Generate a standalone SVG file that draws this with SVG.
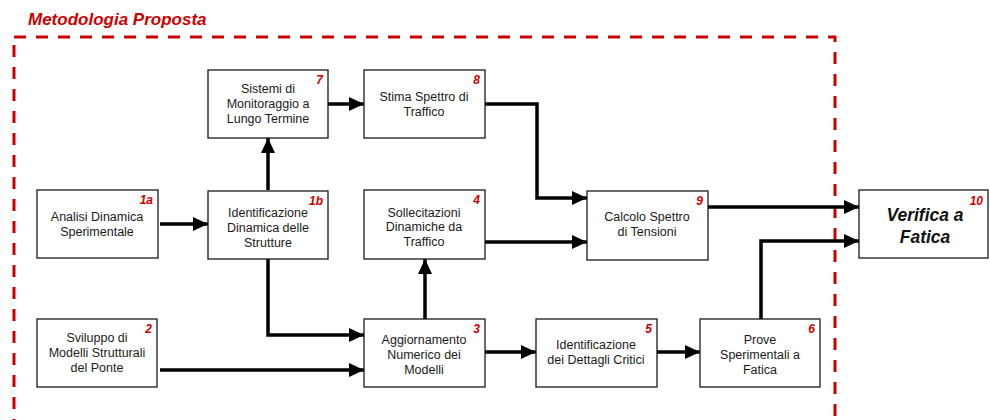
<svg xmlns="http://www.w3.org/2000/svg" width="990" height="420" viewBox="0 0 990 420">
  <style>
    .box { fill: #ffffff; stroke: #1a1a1a; stroke-width: 1.3; }
    .lbl { font-family: "Liberation Sans", Arial, sans-serif; font-size: 12.5px; fill: #1a1a1a; text-anchor: middle; }
    .num { font-family: "Liberation Sans", Arial, sans-serif; font-size: 12px; font-weight: bold; font-style: italic; fill: #cc0000; text-anchor: end; }
    .big { font-family: "Liberation Sans", Arial, sans-serif; font-size: 17.5px; font-weight: bold; font-style: italic; fill: #111111; text-anchor: middle; }
    .title { font-family: "Liberation Sans", Arial, sans-serif; font-size: 17px; font-weight: bold; font-style: italic; fill: #cc0000; }
    .frame { fill: none; stroke: #cc0000; stroke-width: 3; stroke-dasharray: 12 10; }
    .edge { fill: none; stroke: #000000; stroke-width: 3.5; marker-end: url(#head); }
  </style>
  <defs>
    <marker id="head" markerUnits="userSpaceOnUse" markerWidth="16" markerHeight="16" refX="15" refY="8" orient="auto">
      <path d="M0,1 L15,8 L0,15 Z" fill="#000000"/>
    </marker>
  </defs>

  <rect width="990" height="420" fill="#ffffff"/>

  <!-- Proposed methodology frame -->
  <text class="title" x="28" y="25">Metodologia Proposta</text>
  <rect class="frame" x="14" y="37" width="821" height="410"/>

  <!-- Connectors -->
  <g id="connectors">
    <path class="edge" d="M160,224 H208"/>
    <path class="edge" d="M268,190 V138"/>
    <path class="edge" d="M328,104 H364"/>
    <path class="edge" d="M485,104 H537 V198 H587"/>
    <path class="edge" d="M485,242 H587"/>
    <path class="edge" d="M708,207 H859"/>
    <path class="edge" d="M761,319 V241 H859"/>
    <path class="edge" d="M268,259 V335 H364"/>
    <path class="edge" d="M160,370 H364"/>
    <path class="edge" d="M425,319 V259"/>
    <path class="edge" d="M485,352 H536"/>
    <path class="edge" d="M657,352 H700"/>
  </g>

  <!-- Nodes -->
  <g id="node-1a">
    <rect class="box" x="37" y="190" width="121" height="68"/>
    <text class="num" x="153" y="204">1a</text>
    <text class="lbl" x="97" y="221">Analisi Dinamica</text>
    <text class="lbl" x="97" y="236">Sperimentale</text>
  </g>
  <g id="node-1b">
    <rect class="box" x="208" y="191" width="120" height="68"/>
    <text class="num" x="323" y="205">1b</text>
    <text class="lbl" x="268" y="217">Identificazione</text>
    <text class="lbl" x="268" y="232">Dinamica delle</text>
    <text class="lbl" x="268" y="247">Strutture</text>
  </g>
  <g id="node-7">
    <rect class="box" x="208" y="70" width="120" height="68"/>
    <text class="num" x="323" y="84">7</text>
    <text class="lbl" x="268" y="93">Sistemi di</text>
    <text class="lbl" x="268" y="108">Monitoraggio a</text>
    <text class="lbl" x="268" y="123">Lungo Termine</text>
  </g>
  <g id="node-8">
    <rect class="box" x="364" y="70" width="121" height="68"/>
    <text class="num" x="480" y="84">8</text>
    <text class="lbl" x="424" y="101">Stima Spettro di</text>
    <text class="lbl" x="424" y="116">Traffico</text>
  </g>
  <g id="node-4">
    <rect class="box" x="364" y="190" width="121" height="69"/>
    <text class="num" x="480" y="204">4</text>
    <text class="lbl" x="424" y="217">Sollecitazioni</text>
    <text class="lbl" x="424" y="231">Dinamiche da</text>
    <text class="lbl" x="424" y="246">Traffico</text>
  </g>
  <g id="node-9">
    <rect class="box" x="587" y="191" width="121" height="69"/>
    <text class="num" x="703" y="205">9</text>
    <text class="lbl" x="647" y="221">Calcolo Spettro</text>
    <text class="lbl" x="647" y="236">di Tensioni</text>
  </g>
  <g id="node-10">
    <rect class="box" x="859" y="190" width="129" height="68"/>
    <text class="num" x="983" y="205">10</text>
    <text class="big" x="925" y="221">Verifica a</text>
    <text class="big" x="925" y="243">Fatica</text>
  </g>
  <g id="node-2">
    <rect class="box" x="37" y="319" width="120" height="68"/>
    <text class="num" x="152" y="333">2</text>
    <text class="lbl" x="97" y="342">Sviluppo di</text>
    <text class="lbl" x="97" y="357">Modelli  Strutturali</text>
    <text class="lbl" x="97" y="372">del Ponte</text>
  </g>
  <g id="node-3">
    <rect class="box" x="364" y="319" width="121" height="68"/>
    <text class="num" x="480" y="333">3</text>
    <text class="lbl" x="424" y="344">Aggiornamento</text>
    <text class="lbl" x="424" y="359">Numerico dei</text>
    <text class="lbl" x="424" y="374">Modelli</text>
  </g>
  <g id="node-5">
    <rect class="box" x="536" y="319" width="121" height="68"/>
    <text class="num" x="652" y="333">5</text>
    <text class="lbl" x="596" y="349">Identificazione</text>
    <text class="lbl" x="596" y="364">dei Dettagli Critici</text>
  </g>
  <g id="node-6">
    <rect class="box" x="700" y="319" width="120" height="68"/>
    <text class="num" x="815" y="333">6</text>
    <text class="lbl" x="760" y="344">Prove</text>
    <text class="lbl" x="760" y="359">Sperimentali a</text>
    <text class="lbl" x="760" y="374">Fatica</text>
  </g>
</svg>
